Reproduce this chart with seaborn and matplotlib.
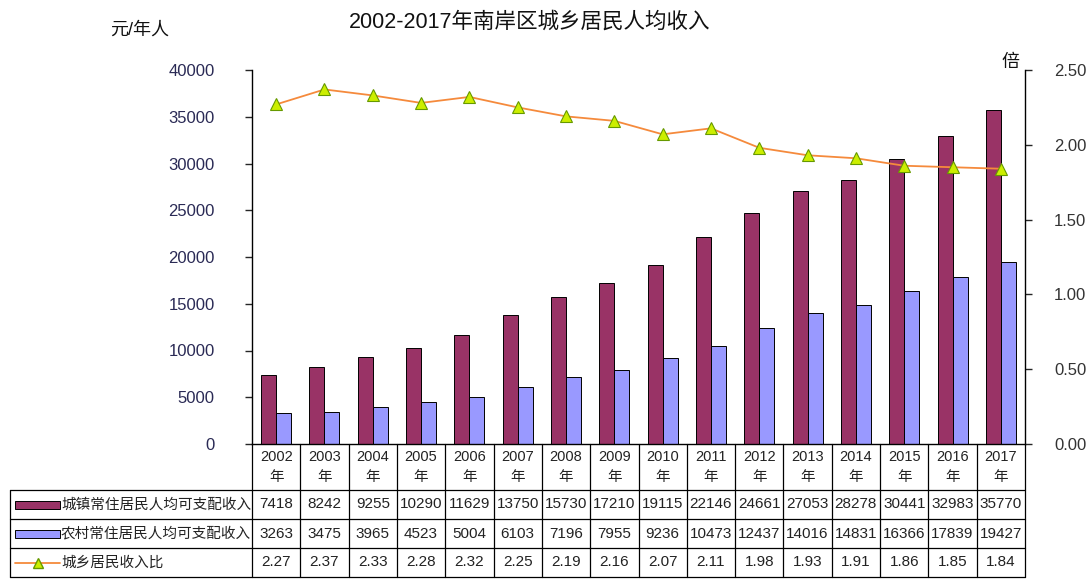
import numpy as np
import pandas as pd
import matplotlib
matplotlib.use("Agg")
import matplotlib.pyplot as plt
import seaborn as sns
from matplotlib.lines import Line2D
from matplotlib.patches import Rectangle

# ----------------------
# data
# ----------------------
years = [str(y) for y in range(2002, 2018)]
urban = [7418, 8242, 9255, 10290, 11629, 13750, 15730, 17210,
         19115, 22146, 24661, 27053, 28278, 30441, 32983, 35770]
rural = [3263, 3475, 3965, 4523, 5004, 6103, 7196, 7955,
         9236, 10473, 12437, 14016, 14831, 16366, 17839, 19427]
ratio = [2.27, 2.37, 2.33, 2.28, 2.32, 2.25, 2.19, 2.16,
         2.07, 2.11, 1.98, 1.93, 1.91, 1.86, 1.85, 1.84]
series_names = ["城镇常住居民人均可支配收入", "农村常住居民人均可支配收入", "城乡居民收入比"]
left_ticks = [0, 5000, 10000, 15000, 20000, 25000, 30000, 35000, 40000]
right_ticks = [0.0, 0.5, 1.0, 1.5, 2.0, 2.5]

c_urban = "#993366"
c_rural = "#9999FF"
c_line = "#F58A3C"
c_mark = "#CCEE00"
c_mark_edge = "#669900"

df = pd.DataFrame({
    "year": years * 2,
    "value": urban + rural,
    "series": [series_names[0]] * len(years) + [series_names[1]] * len(years),
})

sns.set_style("white")
plt.rcParams["font.family"] = ["Liberation Sans", "Noto Sans CJK SC", "DejaVu Sans"]

W, H = 1087, 579
fig = plt.figure(figsize=(W / 100, H / 100), dpi=100)
ax_l, ax_r, ax_t, ax_b = 252, 1025, 70, 444
ax = fig.add_axes([ax_l / W, (H - ax_b) / H, (ax_r - ax_l) / W, (ax_b - ax_t) / H])

sns.barplot(data=df, x="year", y="value", hue="series", hue_order=series_names[:2],
            palette=[c_urban, c_rural], edgecolor="black", linewidth=0.7,
            width=0.62, saturation=1, legend=False, ax=ax)

ax.set_ylim(0, 40000)
ax.set_xlim(-0.5, len(years) - 0.5)
ax.set_yticks(left_ticks)
ax.set_xlabel("")
ax.set_ylabel("")
ax.tick_params(axis="x", length=0, labelbottom=False)
ax.tick_params(axis="y", direction="out", length=5, width=1, pad=22,
               labelsize=12, labelcolor="#2a2a55", left=True)
for s in ["top", "right"]:
    ax.spines[s].set_visible(False)
for s in ["left", "bottom"]:
    ax.spines[s].set_color("black")
    ax.spines[s].set_linewidth(1)

# ratio line on right axis
ax2 = ax.twinx()
sns.lineplot(x=np.arange(len(years)), y=ratio, ax=ax2, color=c_line, linewidth=1.3,
             marker="^", markersize=8, markerfacecolor=c_mark,
             markeredgecolor=c_mark_edge, markeredgewidth=0.8)
ax2.set_ylim(0, 2.5)
ax2.set_yticks(right_ticks)
ax2.set_yticklabels([f"{t:.2f}" for t in right_ticks])
ax2.tick_params(axis="y", direction="out", length=5, width=1, pad=16,
                labelsize=12, labelcolor="#333333", right=True)
for s in ["top", "left", "bottom"]:
    ax2.spines[s].set_visible(False)
ax2.spines["right"].set_color("black")
ax2.spines["right"].set_linewidth(1)
ax2.set_xlim(-0.5, len(years) - 0.5)

# ----------------------
# data table under the chart
# ----------------------
def ay(p):
    return (ax_b - p) / (ax_b - ax_t)

rows_px = [444, 490, 519, 548, 577]
left_x = (10 - ax_l) / (ax_r - ax_l)
trans = ax.get_xaxis_transform()
lw = 0.9

for p in rows_px[1:]:
    ax.add_line(Line2D([left_x, 1], [ay(p), ay(p)], transform=ax.transAxes,
                       color="black", lw=lw, clip_on=False))
for i in range(len(years) + 1):
    ax.add_line(Line2D([i - 0.5, i - 0.5], [ay(rows_px[0]), ay(rows_px[-1])],
                       transform=trans, color="black", lw=lw, clip_on=False))
ax.add_line(Line2D([left_x, left_x], [ay(rows_px[1]), ay(rows_px[-1])],
                   transform=ax.transAxes, color="black", lw=lw, clip_on=False))

for i, y in enumerate(years):
    ax.text(i, ay(467), f"{y}\n年", transform=trans, ha="center", va="center",
            fontsize=10.5, linespacing=1.5, color="#222222", clip_on=False)
    ax.text(i, ay(504.5), str(urban[i]), transform=trans, ha="center", va="center",
            fontsize=11, color="#222222", clip_on=False)
    ax.text(i, ay(533.5), str(rural[i]), transform=trans, ha="center", va="center",
            fontsize=11, color="#222222", clip_on=False)
    ax.text(i, ay(562.5), f"{ratio[i]:.2f}", transform=trans, ha="center", va="center",
            fontsize=11, color="#222222", clip_on=False)

# row labels with legend keys
key_x0 = (15 - ax_l) / (ax_r - ax_l)
key_x1 = (60 - ax_l) / (ax_r - ax_l)
text_x = (61 - ax_l) / (ax_r - ax_l)
centers = [504.5, 533.5, 562.5]
for k, col in enumerate([c_urban, c_rural]):
    ax.add_patch(Rectangle((key_x0, ay(centers[k] + 4)), key_x1 - key_x0,
                           ay(centers[k] - 4) - ay(centers[k] + 4),
                           transform=ax.transAxes, facecolor=col, edgecolor="black",
                           lw=0.7, clip_on=False))
ax.add_line(Line2D([key_x0, key_x1], [ay(centers[2])] * 2, transform=ax.transAxes,
                   color=c_line, lw=1.3, clip_on=False))
ax.add_line(Line2D([(key_x0 + key_x1) / 2], [ay(centers[2])], transform=ax.transAxes,
                   marker="^", markersize=7, markerfacecolor=c_mark,
                   markeredgecolor=c_mark_edge, lw=0, clip_on=False))
for k in range(3):
    ax.text(text_x, ay(centers[k]), series_names[k], transform=ax.transAxes,
            ha="left", va="center", fontsize=10.5, color="#222222", clip_on=False)

# titles and unit labels
fig.text(530 / W, 1 - 22 / H, "2002-2017年南岸区城乡居民人均收入", ha="center", va="center",
         fontsize=15.5, color="#111111")
fig.text(140 / W, 1 - 30 / H, "元/年人", ha="center", va="center", fontsize=13,
         color="#111111")
fig.text(1010 / W, 1 - 62 / H, "倍", ha="center", va="center", fontsize=13,
         color="#111111")

fig.savefig("out.png", dpi=100, facecolor="white")
